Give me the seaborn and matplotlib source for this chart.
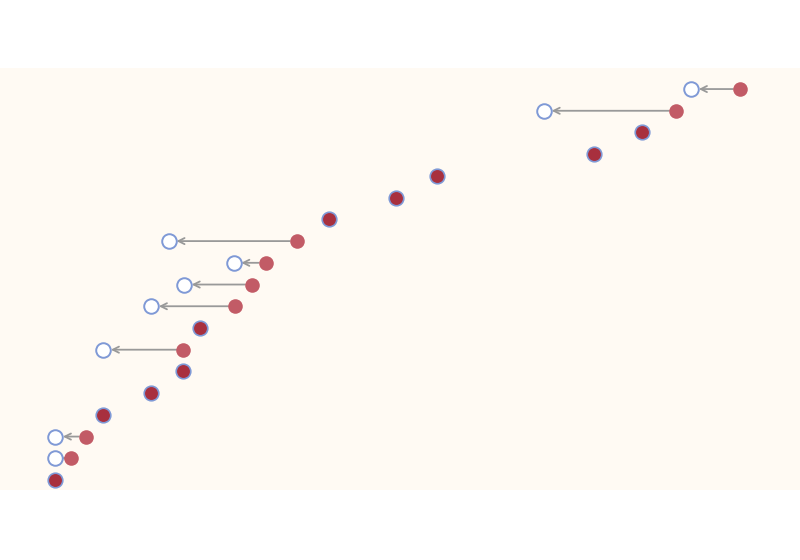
import pandas as pd
import matplotlib.pyplot as plt
import seaborn as sns
import numpy as np

# values, top row first
rows = list(range(19))
before = [92.5, 84.5, 80.2, 74.2, 54.6, 49.5, 41.1, 37.1, 33.2, 31.5, 29.4,
          25.0, 22.9, 22.9, 18.9, 12.9, 10.7, 8.9, 6.9]
after = [86.4, 68.0, 80.2, 74.2, 54.6, 49.5, 41.1, 21.1, 29.2, 23.0, 18.9,
         25.0, 12.9, 22.9, 18.9, 12.9, 6.9, 6.9, 6.9]

df = pd.DataFrame({'row': rows, 'before': before, 'after': after})
df['moved'] = df['before'] != df['after']
moved = df[df['moved']]
same = df[~df['moved']]

sns.set_style('white')
fig = plt.figure(figsize=(8, 5.6), dpi=100)
ax = fig.add_axes([0, 0.125, 1, 0.7536])
ax.set_facecolor('#fffaf3')

red = '#c25b66'
dark_red = '#a8303e'
blue = '#7f99d6'

# arrows from old to new position
for _, r in moved.iterrows():
    ax.annotate('', xy=(r['after'], r['row']), xytext=(r['before'], r['row']),
                arrowprops=dict(arrowstyle='->', color='#999999', lw=1.3,
                                shrinkA=5, shrinkB=5.5, mutation_scale=11),
                zorder=1)

sns.scatterplot(x='after', y='row', data=moved, ax=ax, s=110, color='white',
                edgecolor=blue, linewidth=1.4, zorder=3)
sns.scatterplot(x='before', y='row', data=moved, ax=ax, s=110, color=red,
                edgecolor=red, linewidth=0, zorder=3)
sns.scatterplot(x='before', y='row', data=same, ax=ax, s=110, color=dark_red,
                edgecolor=blue, linewidth=1.2, zorder=3)

ax.set_xlim(0, 100)
ax.set_ylim(18.46, -0.97)
ax.set_xticks([])
ax.set_yticks([])
ax.set_xlabel('')
ax.set_ylabel('')
for s in ax.spines.values():
    s.set_visible(False)

fig.savefig('out.png', dpi=100, facecolor='white')
